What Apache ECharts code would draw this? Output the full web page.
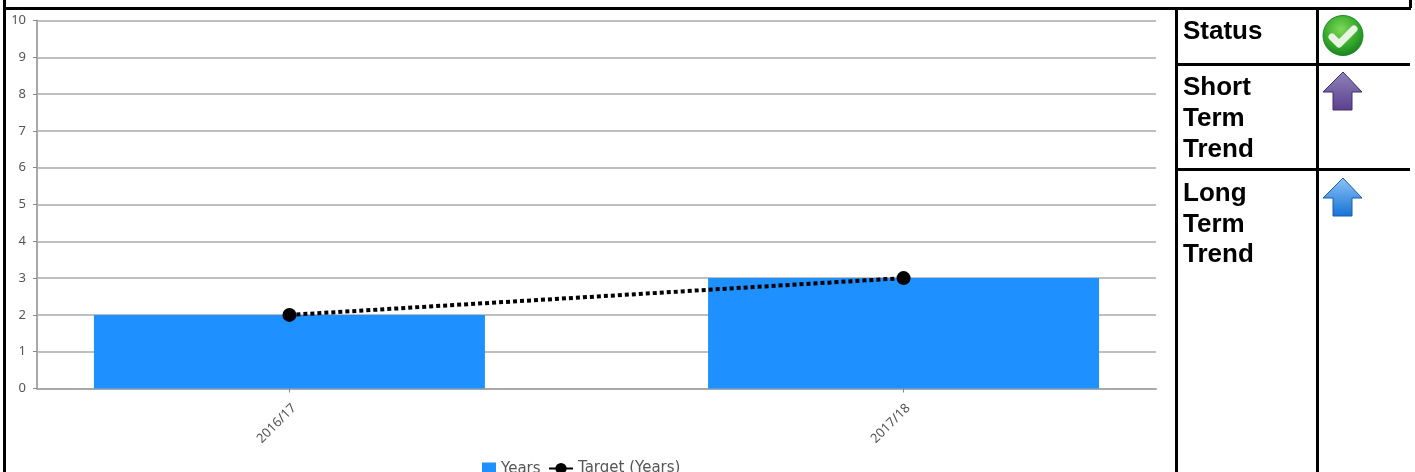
<!DOCTYPE html>
<html><head><meta charset="utf-8">
<style>html,body{margin:0;padding:0;background:#fff;overflow:hidden}#c{width:1415px;height:472px;filter:blur(0.45px)}</style>
<script src="https://cdn.jsdelivr.net/npm/echarts@6/dist/echarts.min.js"></script>
</head><body><div id="c"></div>
<script>
const categories = ['2016/17', '2017/18'];
const years = [2, 3];
const target = [2, 3];
const categorySlots = [0, 1];
const statusLabels = [['Status'], ['Short', 'Term', 'Trend'], ['Long', 'Term', 'Trend']];

const chart = echarts.init(document.getElementById('c'), null, {renderer: 'canvas'});
const font = '"DejaVu Sans", sans-serif';
const labelFont = '"Noto Sans", sans-serif';
const G = [];
const black = {fill: '#000'};
function rect(x, y, w, h) { G.push({type: 'rect', shape: {x, y, width: w, height: h}, style: black, silent: true, z: 5}); }
rect(3, 0, 3, 472);
rect(3, 7, 1408, 3);
rect(1175, 7, 3, 465);
rect(1316, 7, 3, 465);
rect(1177, 63, 233, 3);
rect(1177, 168, 233, 3);
rect(1409, 0, 3, 8);

const rowTops = [[19], [75, 106, 137], [181, 212, 242]];
statusLabels.forEach((row, r) => row.forEach((t, i) => G.push({
  type: 'text', silent: true, z: 6,
  style: {x: 1183, y: rowTops[r][i], text: t, fill: '#000',
    font: 'bold 26px "Liberation Sans", Arial, sans-serif'}
})));

// Status icon
G.push({type: 'circle', shape: {cx: 1343, cy: 35.5, r: 20}, silent: true, z: 6, style: {
  fill: new echarts.graphic.RadialGradient(0.45, 0.35, 0.7, [{offset: 0, color: '#7fd957'}, {offset: 0.6, color: '#35a82c'}, {offset: 1, color: '#127a1c'}]),
  stroke: '#1d8a25', lineWidth: 1}});
G.push({type: 'polyline', shape: {points: [[1332, 37], [1339, 44], [1354, 29]]}, silent: true, z: 7,
  style: {stroke: '#e8f5e2', lineWidth: 7, fill: null, lineCap: 'round', lineJoin: 'round'}});

function arrow(top, c0, c1, edge) {
  const p = [[1343, top], [1362, top + 20], [1352, top + 20], [1352, top + 38], [1333, top + 38], [1333, top + 20], [1323, top + 20]];
  G.push({type: 'polygon', shape: {points: p}, silent: true, z: 6, style: {
    fill: new echarts.graphic.LinearGradient(0, 0, 0, 1, [{offset: 0, color: c0}, {offset: 1, color: c1}]),
    stroke: edge, lineWidth: 1}});
}
arrow(72, '#8f84b8', '#5c3f8f', '#3f2f66');
arrow(178, '#8cc4f5', '#1572d6', '#1a5fae');

chart.setOption({
  animation: false,
  backgroundColor: '#fff',
  textStyle: {fontFamily: font},
  grid: {left: 37, right: 259, top: 20.5, bottom: 83.5, containLabel: false},
  legend: [
    {data: [{name: 'Years', icon: 'rect'}], left: 482, top: 462, itemWidth: 14, itemHeight: 14, padding: 0, itemGap: 0,
     textStyle: {color: '#555', fontSize: 15, fontFamily: font}},
    {data: ['Target (Years)'], left: 548, top: 461, itemWidth: 24, itemHeight: 14, padding: 0, itemGap: 0,
     lineStyle: {type: 'solid', width: 2}, textStyle: {color: '#555', fontSize: 15, fontFamily: font}}
  ],
  xAxis: {
    type: 'value', min: -0.411, max: 1.411, splitLine: {show: false},
    axisLine: {onZero: false, lineStyle: {color: '#a8a8a8', width: 2}},
    axisTick: {show: true, length: 4, customValues: categorySlots, lineStyle: {color: '#888'}},
    axisLabel: {customValues: categorySlots, rotate: 45, margin: 13, verticalAlign: 'top', color: '#555', fontSize: 13, fontFamily: labelFont,
      formatter: v => categories[v]}
  },
  yAxis: {
    type: 'value', min: 0, max: 10, interval: 1,
    axisLine: {show: true, onZero: false, lineStyle: {color: '#a8a8a8', width: 2}},
    axisTick: {show: true, length: 4, lineStyle: {color: '#888'}},
    axisLabel: {margin: 11, color: '#555', fontSize: 13, fontFamily: labelFont},
    splitLine: {lineStyle: {color: '#aaa', width: 1.5}}
  },
  series: [
    {name: 'Years', type: 'bar', barWidth: 391, itemStyle: {color: '#1e90ff'},
     data: years.map((v, i) => [categorySlots[i], v])},
    {name: 'Target (Years)', type: 'line', symbol: 'circle', symbolSize: 14, z: 4,
     itemStyle: {color: '#000'}, lineStyle: {color: '#000', width: 4, type: [4, 3]},
     data: target.map((v, i) => [categorySlots[i], v])}
  ],
  graphic: G
});
</script></body></html>
